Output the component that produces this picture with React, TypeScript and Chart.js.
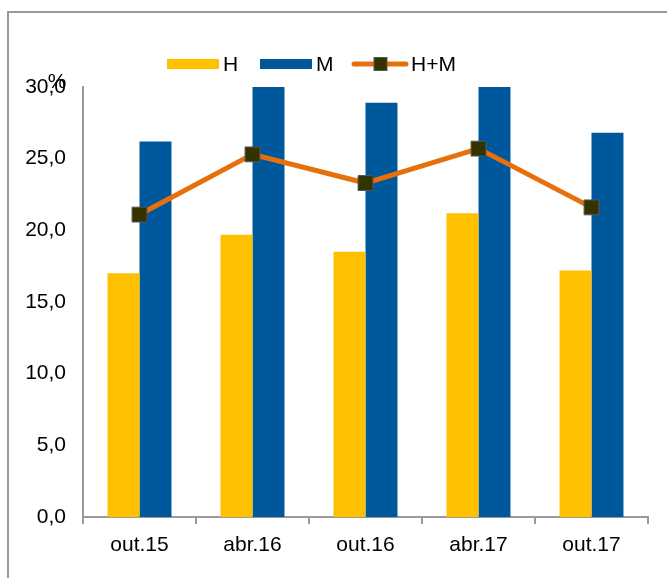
import React, { useEffect, useRef } from "react";
import { Chart, registerables } from "chart.js";

Chart.register(...registerables);

const categories = ["out.15", "abr.16", "out.16", "abr.17", "out.17"];
const valuesH = [17.0, 19.7, 18.5, 21.2, 17.2];
const valuesM = [26.2, 30.6, 28.9, 30.8, 26.8];
const valuesHM = [21.1, 25.3, 23.3, 25.7, 21.6];
const yTicks = [0, 5, 10, 15, 20, 25, 30];

const FONT = "'Liberation Sans', Arial, sans-serif";
const FONT_SIZE = 21;
const COLOR_H = "#FFC000";
const COLOR_M = "#00589C";
const COLOR_LINE = "#E8700C";
const COLOR_MARK = "#333300";

const overlayPlugin = {
  id: "overlay",
  afterDraw(chart: any) {
    const ctx = chart.ctx;
    ctx.save();
    ctx.font = `${FONT_SIZE}px ${FONT}`;
    ctx.fillStyle = "#000";
    ctx.textBaseline = "middle";
    // percent sign
    ctx.textAlign = "center";
    ctx.fillText("%", 57, 82);
    // legend
    ctx.textAlign = "left";
    const ly = 64;
    ctx.fillStyle = COLOR_H;
    ctx.fillRect(167, ly - 5, 52, 10);
    ctx.fillStyle = "#000";
    ctx.fillText(chart.data.datasets[1].label, 223, ly + 1);
    ctx.fillStyle = COLOR_M;
    ctx.fillRect(260, ly - 5, 52, 10);
    ctx.fillStyle = "#000";
    ctx.fillText(chart.data.datasets[2].label, 316, ly + 1);
    ctx.strokeStyle = COLOR_LINE;
    ctx.lineWidth = 5;
    ctx.lineCap = "round";
    ctx.beginPath();
    ctx.moveTo(354, ly);
    ctx.lineTo(406, ly);
    ctx.stroke();
    ctx.fillStyle = COLOR_MARK;
    ctx.fillRect(374, ly - 6.5, 13, 13);
    ctx.strokeStyle = "#555";
    ctx.lineWidth = 1;
    ctx.strokeRect(374, ly - 6.5, 13, 13);
    ctx.fillStyle = "#000";
    ctx.fillText(chart.data.datasets[0].label, 411, ly + 1);
    ctx.restore();
  },
};

export default function App() {
  const ref = useRef<HTMLCanvasElement>(null);

  useEffect(() => {
    if (!ref.current) return;
    const chart = new Chart(ref.current, {
      type: "bar",
      data: {
        labels: categories,
        datasets: [
          {
            type: "line",
            label: "H+M",
            data: valuesHM,
            borderColor: COLOR_LINE,
            borderWidth: 5,
            pointStyle: "rect",
            pointRadius: 10.5,
            pointBackgroundColor: COLOR_MARK,
            pointBorderColor: "#555",
            pointBorderWidth: 1,
            fill: false,
            tension: 0,
            order: 0,
          } as any,
          {
            type: "bar",
            label: "H",
            data: valuesH,
            backgroundColor: COLOR_H,
            categoryPercentage: 0.566,
            barPercentage: 1,
            clip: 0,
            order: 1,
          } as any,
          {
            type: "bar",
            label: "M",
            data: valuesM,
            backgroundColor: COLOR_M,
            categoryPercentage: 0.566,
            barPercentage: 1,
            clip: 0,
            order: 1,
          } as any,
        ],
      },
      options: {
        animation: false,
        responsive: false,
        maintainAspectRatio: false,
        layout: { padding: { top: 87, right: 19, left: 0, bottom: 0 } },
        plugins: {
          legend: { display: false },
          tooltip: { enabled: false },
        },
        scales: {
          x: {
            offset: true,
            grid: {
              display: true,
              offset: true,
              drawOnChartArea: false,
              drawTicks: true,
              tickLength: 7,
              color: "#9a9a9a",
              lineWidth: 2,
            },
            border: { display: true, color: "#9a9a9a", width: 2 },
            ticks: {
              color: "#000",
              font: { family: FONT, size: FONT_SIZE },
              padding: 9,
              maxRotation: 0,
            },
            afterFit: (scale: any) => {
              scale.height = 61;
            },
          },
          y: {
            min: 0,
            max: 30,
            grid: { display: false, drawTicks: false },
            border: { display: true, color: "#9a9a9a", width: 2 },
            afterBuildTicks: (scale: any) => {
              scale.ticks = yTicks.map((v) => ({ value: v }));
            },
            ticks: {
              color: "#000",
              font: { family: FONT, size: FONT_SIZE },
              padding: 17,
              callback: (v: any) => Number(v).toFixed(1).replace(".", ","),
            },
            afterFit: (scale: any) => {
              scale.width = 83;
            },
          },
        },
      },
      plugins: [overlayPlugin],
    });
    return () => chart.destroy();
  }, []);

  return (
    <div
      style={{
        position: "fixed",
        left: 0,
        top: 0,
        width: 667,
        height: 578,
        overflow: "hidden",
        background: "#fff",
      }}
    >
      <div
        style={{
          position: "absolute",
          left: 7,
          top: 11,
          width: 700,
          height: 620,
          borderLeft: "2px solid #9a9a9a",
          borderTop: "2px solid #9a9a9a",
        }}
      />
      <canvas
        ref={ref}
        width={667}
        height={578}
        style={{ position: "absolute", left: 0, top: 0, width: 667, height: 578 }}
      />
    </div>
  );
}
